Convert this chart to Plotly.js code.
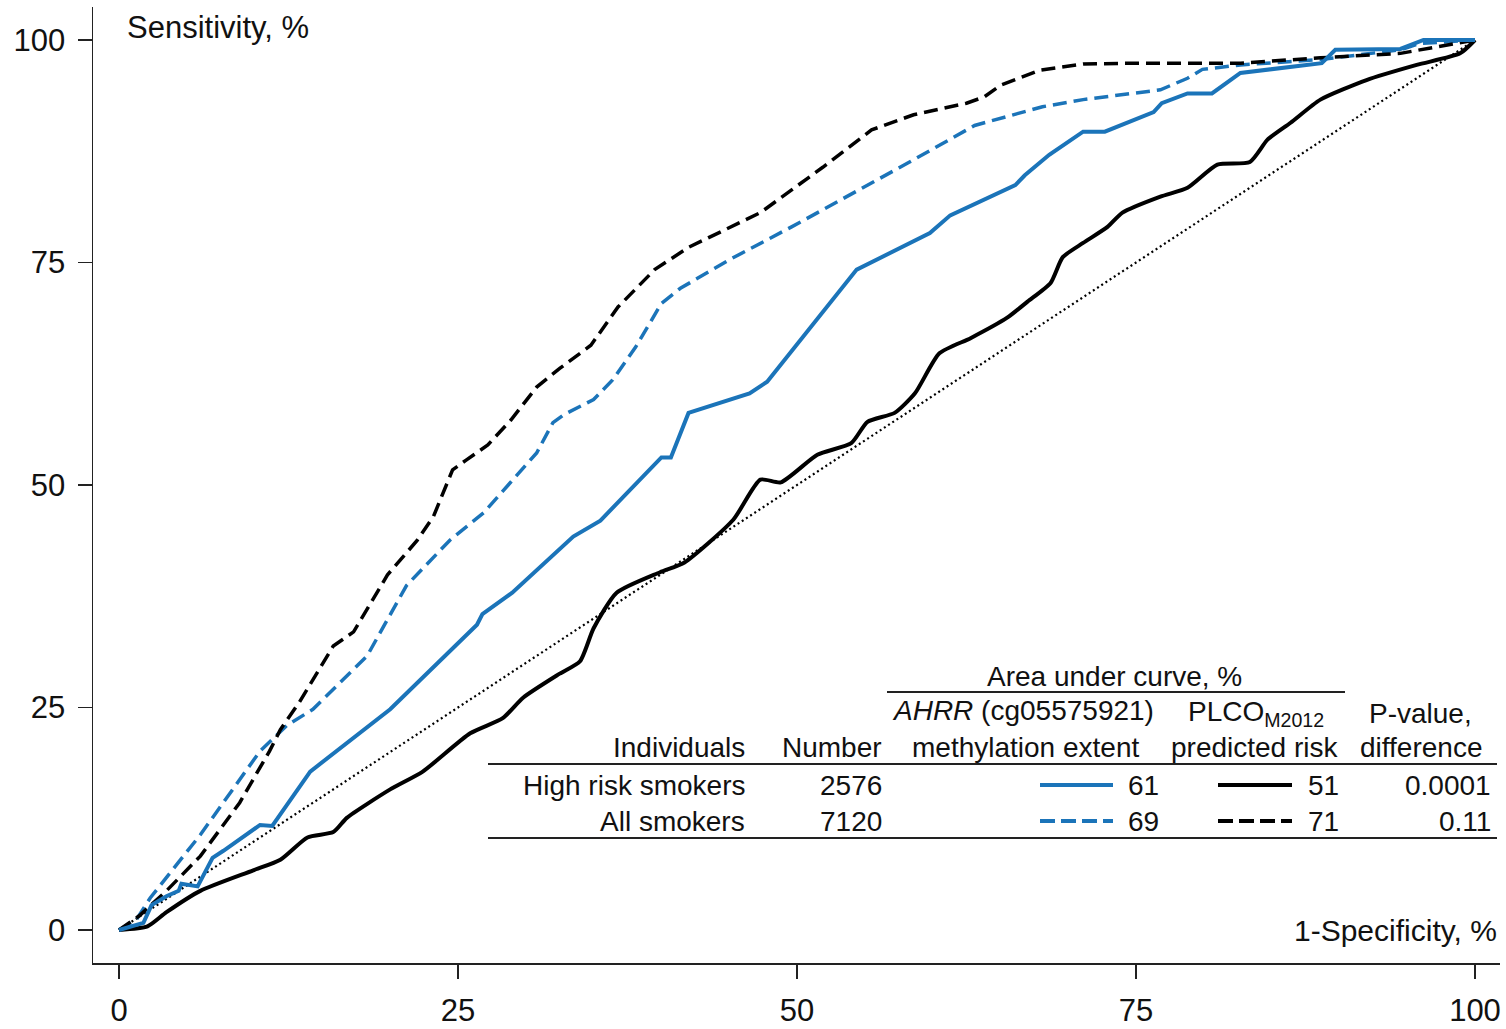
<!DOCTYPE html>
<html>
<head>
<meta charset="utf-8">
<script src="https://cdn.plot.ly/plotly-3.0.1.min.js"></script>
<style>
html,body{margin:0;padding:0;background:#fff;}
#chart{width:1506px;height:1029px;}
</style>
</head>
<body>
<div id="chart"></div>
<script>
// ---------- Data ----------
// AHRR methylation, high risk smokers (blue solid)
const ahrrHighX = [0, 1.8, 2.4, 3.5, 4.4, 4.6, 5.8, 6.9, 7.7, 10.4, 11.3, 14.1, 20.0, 26.4, 26.8, 29.0, 33.5, 35.5, 40.0, 40.7, 42.0, 46.5, 47.8, 53.1, 54.4, 59.8, 61.3, 66.1, 66.8, 68.6, 71.1, 72.7, 76.3, 76.9, 78.8, 80.6, 82.7, 88.7, 89.7, 94.5, 96.2, 100];
const ahrrHighY = [0, 0.8, 2.8, 3.8, 4.4, 5.2, 4.9, 8.1, 8.9, 11.8, 11.7, 17.8, 24.8, 34.3, 35.5, 37.9, 44.2, 46.0, 53.1, 53.1, 58.1, 60.3, 61.6, 71.6, 74.2, 78.3, 80.3, 83.7, 84.8, 87.1, 89.7, 89.7, 91.9, 92.9, 94.0, 94.0, 96.3, 97.4, 98.9, 99.0, 100, 100];

// AHRR methylation, all smokers (blue dashed)
const ahrrAllX = [0, 1.3, 2.3, 6.0, 10.4, 12.4, 14.3, 18.3, 21.2, 24.4, 26.9, 30.8, 32.0, 32.8, 35.0, 36.4, 38.1, 40.0, 41.4, 45.0, 49.6, 53.2, 58.2, 63.1, 65.0, 68.1, 71.1, 76.8, 78.8, 79.9, 82.7, 88.6, 94.5, 95.9, 100];
const ahrrAllY = [0, 1.2, 3.6, 10.7, 20.1, 23.0, 24.8, 30.8, 38.7, 43.8, 46.9, 53.6, 57.0, 57.9, 59.6, 61.8, 65.5, 70.4, 72.1, 75.3, 79.0, 82.0, 86.2, 90.4, 91.2, 92.5, 93.3, 94.4, 95.7, 96.7, 97.2, 97.8, 98.9, 99.6, 100];

// PLCOm2012, high risk smokers (black solid)
const plcoHighX = [0, 2.1, 3.5, 6.0, 9.9, 11.9, 13.9, 15.8, 16.8, 20.0, 22.4, 25.9, 28.3, 29.8, 32.5, 34.0, 35.0, 36.7, 39.9, 41.7, 45.3, 47.3, 48.8, 51.5, 54.0, 55.2, 57.2, 58.7, 60.5, 62.8, 65.5, 67.0, 68.7, 69.6, 71.1, 72.9, 74.0, 76.8, 78.8, 81.0, 83.4, 84.7, 86.4, 88.6, 92.0, 95.7, 98.9, 100];
const plcoHighY = [0, 0.4, 2.0, 4.4, 6.7, 7.9, 10.4, 11.0, 12.6, 15.8, 17.8, 22.1, 23.8, 26.1, 28.8, 30.2, 33.9, 37.9, 40.2, 41.3, 46.1, 50.6, 50.3, 53.4, 54.7, 57.1, 58.1, 60.3, 64.8, 66.5, 68.8, 70.6, 72.7, 75.6, 77.2, 79.0, 80.6, 82.4, 83.4, 86.0, 86.3, 88.8, 90.7, 93.3, 95.5, 97.2, 98.5, 100];

// PLCOm2012, all smokers (black dashed)
const plcoAllX = [0, 1.5, 3.5, 6.0, 8.9, 11.1, 11.9, 13.3, 15.8, 17.3, 19.8, 22.0, 23.2, 24.6, 25.6, 27.2, 28.9, 30.8, 32.5, 34.8, 36.8, 39.5, 42.0, 47.3, 51.9, 55.5, 58.6, 62.5, 63.8, 65.0, 67.9, 71.1, 74.8, 82.7, 88.6, 94.5, 100];
const plcoAllY = [0, 1.6, 4.4, 8.3, 14.3, 20.1, 22.5, 25.6, 31.9, 33.5, 39.9, 43.8, 46.5, 51.7, 52.8, 54.5, 57.3, 61.0, 63.1, 65.7, 70.0, 74.2, 76.7, 80.6, 85.7, 89.9, 91.6, 92.9, 93.6, 94.9, 96.6, 97.3, 97.4, 97.4, 98.0, 98.5, 100];

// Reference diagonal
const refX = [0, 100];
const refY = [0, 100];

// Tick values
const tickValues = [0, 25, 50, 75, 100];

// Table contents
const individuals = ['High risk smokers', 'All smokers'];
const numbers = ['2576', '7120'];
const aucAHRR = [61, 69];
const aucPLCO = [51, 71];
const pValues = ['0.0001', '0.11'];

// ---------- Styling ----------
const BLUE = '#1b74b9';
const BLACK = '#000000';
const FONT = 'Arial, "Liberation Sans", sans-serif';
const W = 1506, H = 1029;
const M = {l: 93, r: 6, t: 7, b: 66};
const PW = W - M.l - M.r, PH = H - M.t - M.b;
// pixel -> paper helpers (for decorations only)
const px = v => (v - M.l) / PW;
const py = v => (H - M.b - v) / PH;

const traces = [
  {x: refX, y: refY, mode: 'lines', line: {color: '#000', width: 2.2, dash: '2px,3px'}, hoverinfo: 'skip'},
  {x: plcoHighX, y: plcoHighY, mode: 'lines', line: {color: BLACK, width: 4, shape: 'spline', smoothing: 0.6}},
  {x: ahrrAllX, y: ahrrAllY, mode: 'lines', line: {color: BLUE, width: 3.5, dash: '14px,7px'}},
  {x: plcoAllX, y: plcoAllY, mode: 'lines', line: {color: BLACK, width: 3.5, dash: '14px,7px'}},
  {x: ahrrHighX, y: ahrrHighY, mode: 'lines', line: {color: BLUE, width: 4}}
];

const ann = [];
const shapes = [];
function txt(text, x, y, anchor, size) {
  ann.push({
    text: text, xref: 'paper', yref: 'paper', x: px(x), y: py(y),
    xanchor: anchor, yanchor: 'middle', showarrow: false,
    font: {family: FONT, size: size, color: '#111'}
  });
}
function hline(x0, x1, y, color, width, dash) {
  shapes.push({type: 'line', xref: 'paper', yref: 'paper', x0: px(x0), x1: px(x1), y0: py(y), y1: py(y),
    line: {color: color, width: width, dash: dash || 'solid'}});
}

// axis captions
txt('Sensitivity, %', 125, 27, 'left', 31);
txt('1-Specificity, %', 1499, 930, 'right', 30);

// table
const TS = 28;
txt('Area under curve, %', 1114, 676, 'center', TS);
hline(887, 1345, 692, '#222', 2);
txt('<i>AHRR</i> (cg05575921)', 1023, 711, 'center', TS);
txt('PLCO<sub>M2012</sub>', 1256, 713, 'center', TS);
txt('P-value,', 1420, 713, 'center', TS);
txt('Individuals', 747, 747, 'right', TS);
txt('Number', 884, 747, 'right', TS);
txt('methylation extent', 1141, 747, 'right', TS);
txt('predicted risk', 1341, 747, 'right', TS);
txt('difference', 1484, 747, 'right', TS);
hline(488, 1497, 764, '#222', 2);
const rowY = [785, 821];
const sampleDash = ['solid', '15px,6px'];
for (let i = 0; i < individuals.length; i++) {
  txt(individuals[i], 747, rowY[i], 'right', TS);
  txt(numbers[i], 884, rowY[i], 'right', TS);
  hline(1040, 1113, rowY[i], BLUE, 4, sampleDash[i]);
  txt(String(aucAHRR[i]), 1161, rowY[i], 'right', TS);
  hline(1218, 1292, rowY[i], BLACK, 4, sampleDash[i]);
  txt(String(aucPLCO[i]), 1341, rowY[i], 'right', TS);
  txt(pValues[i], 1493, rowY[i], 'right', TS);
}
hline(488, 1497, 838, '#222', 2);

const layout = {
  width: W, height: H,
  margin: M,
  paper_bgcolor: '#fff', plot_bgcolor: '#fff',
  showlegend: false,
  font: {family: FONT, color: '#111'},
  xaxis: {
    range: [(M.l - 119) / 13.56, 100 + (W - M.r - 1475) / 13.56],
    tickvals: tickValues, ticktext: tickValues.map(String),
    ticks: 'outside', ticklen: 14, tickwidth: 1.5, tickcolor: '#222',
    showline: true, linecolor: '#222', linewidth: 1.5,
    showgrid: false, zeroline: false,
    tickfont: {family: FONT, size: 31, color: '#111'},
    ticklabelstandoff: 5, fixedrange: true
  },
  yaxis: {
    range: [-(H - M.b - 930) / 8.9, (930 - M.t) / 8.9],
    tickvals: tickValues, ticktext: tickValues.map(String),
    ticks: 'outside', ticklen: 14, tickwidth: 1.5, tickcolor: '#222',
    showline: true, linecolor: '#222', linewidth: 1.5,
    showgrid: false, zeroline: false,
    tickfont: {family: FONT, size: 31, color: '#111'},
    ticklabelstandoff: 6, fixedrange: true
  },
  annotations: ann,
  shapes: shapes
};

Plotly.newPlot('chart', traces, layout, {displayModeBar: false, staticPlot: true});
</script>
</body>
</html>
